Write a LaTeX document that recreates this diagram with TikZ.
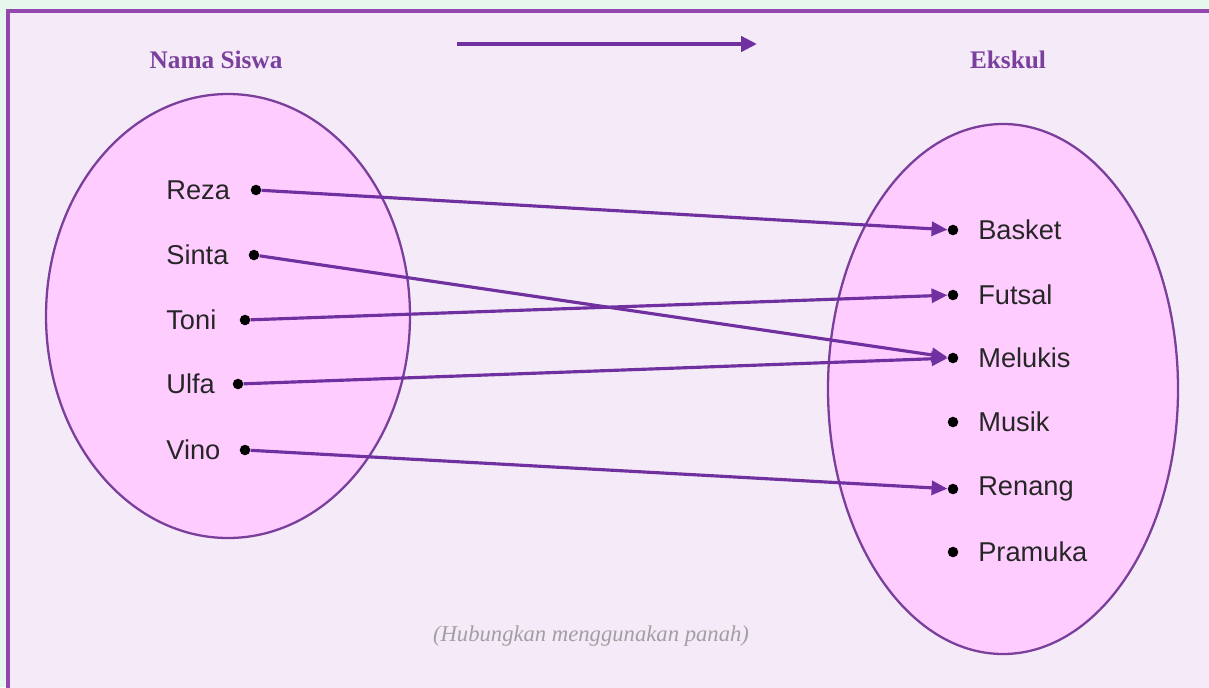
\documentclass[tikz,border=0pt]{standalone}
\usepackage{fontspec}
\setmainfont{Liberation Serif}
\setsansfont{Liberation Sans}
\usetikzlibrary{arrows.meta,positioning}
\definecolor{mintbg}{HTML}{E6F8EE}
\definecolor{lilacbg}{HTML}{F5EAF8}
\definecolor{framepurple}{HTML}{9448AE}
\definecolor{setpink}{HTML}{FFCCFF}
\definecolor{setline}{HTML}{7A3F9A}
\definecolor{linkpurple}{HTML}{7030A0}
\definecolor{titlepurple}{HTML}{7B3F9E}
\definecolor{notegray}{HTML}{A0A0A0}
\tikzset{
  setshape/.style={fill=setpink,draw=setline,line width=1.3pt},
  dotK/.style={circle,fill=black,inner sep=0pt,minimum size=6pt},
  itemlab/.style={font=\sffamily\fontsize{15.5}{18}\selectfont,text=black!85,inner sep=0pt},
  settitle/.style={font=\bfseries\fontsize{14.4}{17}\selectfont,text=titlepurple},
  link/.style={linkpurple,line width=1.8pt,-{Triangle[length=9pt,width=8pt]}},
  hintlab/.style={font=\itshape\fontsize{12.9}{15}\selectfont,text=notegray},
}
\begin{document}
\begin{tikzpicture}[x=0.02cm,y=-0.02cm]
  \useasboundingbox (0,0) rectangle (1209,687);
  % latar dan bingkai
  \fill[mintbg] (0,0) rectangle (1209,687);
  \filldraw[fill=lilacbg,draw=framepurple,line width=2.2pt] (8,11) rectangle (1215,695);
  % judul kedua himpunan
  \node[settitle] (tSiswa) at (216,60) {Nama Siswa};
  \node[settitle] (tEkskul) at (1008,60) {Ekskul};
  \coordinate (arA) at (457,44);
  \coordinate (arB) at (757,44);
  \draw[linkpurple,line width=2.3pt,-{Triangle[length=9pt,width=8.5pt]}] (arA) -- (arB);
  % himpunan A dan B
  \draw[setshape] (228,316) ellipse [x radius=182, y radius=222];
  \draw[setshape] (1003,389) ellipse [x radius=175, y radius=265];
  % anggota kiri
  \foreach \n/\t/\x/\y in {reza/Reza/256/190,sinta/Sinta/254/255,toni/Toni/245/320,
                           ulfa/Ulfa/238/384,vino/Vino/245/450}{%
    \node[dotK] (\n) at (\x,\y) {};
    \node[itemlab,anchor=west] (l\n) at (166,\y) {\t};}
  % anggota kanan
  \foreach \n/\t/\y in {basket/Basket/230,futsal/Futsal/295,melukis/Melukis/358,
                        musik/Musik/422,renang/Renang/489,pramuka/Pramuka/552}{%
    \node[dotK] (\n) at (953,\y) {};
    \node[itemlab,right=11pt of \n] (l\n) {\t};}
  % panah relasi
  \draw[link] (reza) -- (basket);
  \draw[link] (sinta) -- (melukis);
  \draw[link] (toni) -- (futsal);
  \draw[link] (ulfa) -- (melukis);
  \draw[link] (vino) -- (renang);
  \node[hintlab] (hint) at (591,636) {(Hubungkan menggunakan panah)};
\end{tikzpicture}
\end{document}
